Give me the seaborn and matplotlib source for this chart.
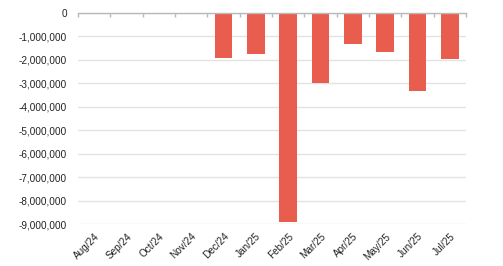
import pandas as pd
import seaborn as sns
import matplotlib.pyplot as plt
import numpy as np

months = ["Aug/24", "Sep/24", "Oct/24", "Nov/24", "Dec/24", "Jan/25",
          "Feb/25", "Mar/25", "Apr/25", "May/25", "Jun/25", "Jul/25"]
values = [0, 0, 0, 0, -1910000, -1745000, -8890000, -2980000,
          -1320000, -1660000, -3320000, -1970000]

df = pd.DataFrame({"month": months, "value": values})

sns.set_style("white")
plt.rcParams["font.family"] = ["Liberation Sans", "DejaVu Sans"]

fig = plt.figure(figsize=(5.03, 2.66), dpi=100)
ax = fig.add_axes([78 / 503, 1 - 224.3 / 266, 388 / 503, 211.6 / 266])

sns.barplot(data=df, x="month", y="value", color="#e95d4f", width=0.55,
            saturation=1, linewidth=0, ax=ax, zorder=3)

ax.set_ylim(-9000000, 0)
ax.set_xlim(-0.5, len(months) - 0.5)
ax.set_yticks(np.arange(-9000000, 1, 1000000))
ax.yaxis.set_major_formatter(plt.FuncFormatter(lambda v, p: f"{int(v):,}"))
ax.grid(axis="y", color="#e3e3e3", linewidth=1, zorder=0)
ax.set_xlabel("")
ax.set_ylabel("")

for s in ["left", "right", "bottom"]:
    ax.spines[s].set_visible(False)
ax.spines["top"].set_color("#b8b8b8")
ax.spines["top"].set_linewidth(1)
ax.spines["top"].set_zorder(5)

ax.tick_params(axis="y", length=0, labelsize=7.2, pad=8, labelcolor="#222222")
ax.tick_params(axis="x", which="major", length=0, labelsize=7.2, pad=5, labelcolor="#222222")
ax.set_xticks(np.arange(-0.5, len(months), 1), minor=True)
ax.tick_params(axis="x", which="minor", bottom=False, top=True, direction="in",
               length=3, color="#b8b8b8", width=1)
plt.setp(ax.get_xticklabels(), rotation=45, ha="right", rotation_mode="anchor")

fig.savefig("out.png", dpi=100)
